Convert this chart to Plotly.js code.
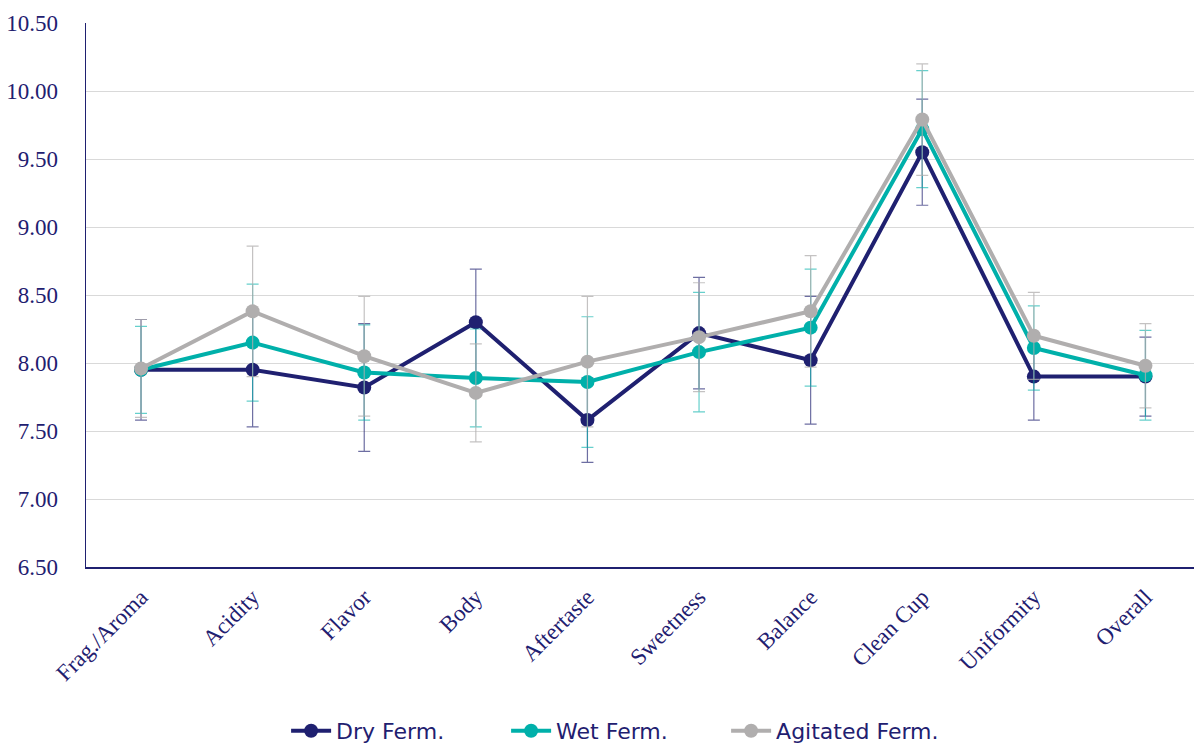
<!DOCTYPE html>
<html>
<head>
<meta charset="utf-8">
<script src="https://cdn.plot.ly/plotly-3.0.1.min.js"></script>
<style>
  html, body { margin: 0; padding: 0; background: #fff; }
  #chart { width: 1194px; height: 744px; }
</style>
</head>
<body>
<div id="chart"></div>
<script>
// Cupping attributes on the x axis
const attributes = ["Frag./Aroma", "Acidity", "Flavor", "Body", "Aftertaste",
                    "Sweetness", "Balance", "Clean Cup", "Uniformity", "Overall"];

// Mean scores per fermentation method
const dryScores      = [7.95, 7.95, 7.82, 8.30, 7.58, 8.22, 8.02, 9.55, 7.90, 7.90];
const wetScores      = [7.95, 8.15, 7.93, 7.89, 7.86, 8.08, 8.26, 9.72, 8.11, 7.91];
const agitatedScores = [7.96, 8.38, 8.05, 7.78, 8.01, 8.19, 8.38, 9.79, 8.20, 7.98];

// Standard deviations (error bars)
const dryErr      = [0.37, 0.42, 0.47, 0.39, 0.31, 0.41, 0.47, 0.39, 0.32, 0.29];
const wetErr      = [0.32, 0.43, 0.35, 0.36, 0.48, 0.44, 0.43, 0.43, 0.31, 0.33];
const agitatedErr = [0.36, 0.48, 0.44, 0.36, 0.48, 0.40, 0.41, 0.41, 0.32, 0.31];

const seriesNames = ["Dry Ferm.", "Wet Ferm.", "Agitated Ferm."];

const NAVY = "#1f2070";
const TEAL = "#00b0aa";
const GREY = "#b0aeae";

function series(name, ys, errs, color, errColor) {
  return {
    type: "scatter",
    mode: "lines+markers",
    name: name,
    x: attributes,
    y: ys,
    line: { color: color, width: 4 },
    marker: { color: color, size: 14 },
    error_y: {
      type: "data", array: errs, visible: true,
      color: errColor, thickness: 1.2, width: 6
    }
  };
}

const traces = [
  series(seriesNames[0], dryScores, dryErr, NAVY, "rgba(31,32,112,0.65)"),
  series(seriesNames[1], wetScores, wetErr, TEAL, "rgba(0,176,170,0.6)"),
  series(seriesNames[2], agitatedScores, agitatedErr, GREY, "rgba(176,174,174,0.75)")
];

const layout = {
  width: 1194,
  height: 744,
  margin: { l: 86, r: 0, t: 23, b: 177 },
  paper_bgcolor: "#ffffff",
  plot_bgcolor: "#ffffff",
  showlegend: true,
  legend: {
    orientation: "h",
    xref: "container", yref: "container",
    x: 0.516, xanchor: "center",
    y: 0.0175, yanchor: "middle",
    font: { family: "DejaVu Sans", size: 22, color: NAVY },
    itemwidth: 40,
    entrywidth: 165
  },
  xaxis: {
    type: "category",
    range: [-0.493, 9.435],
    automargin: false,
    showgrid: false,
    zeroline: false,
    showline: true,
    linecolor: NAVY,
    linewidth: 1.5,
    ticks: "",
    tickangle: -45,
    ticklabelstandoff: 6,
    tickfont: { family: "Liberation Serif", size: 23, color: NAVY }
  },
  yaxis: {
    range: [6.5, 10.5],
    dtick: 0.5,
    tick0: 6.5,
    tickformat: ".2f",
    automargin: false,
    showgrid: true,
    gridcolor: "#d9d9d9",
    gridwidth: 1,
    zeroline: false,
    showline: true,
    linecolor: NAVY,
    linewidth: 1.5,
    ticks: "",
    ticklabelstandoff: 22,
    tickfont: { family: "Liberation Serif", size: 23, color: NAVY }
  }
};

Plotly.newPlot("chart", traces, layout, { displayModeBar: false, staticPlot: true });
</script>
</body>
</html>
